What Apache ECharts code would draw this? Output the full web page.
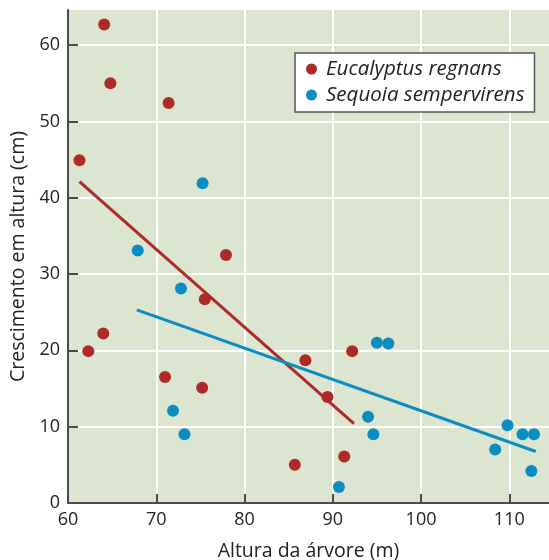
<!DOCTYPE html>
<html>
<head>
<meta charset="utf-8">
<script src="https://cdn.jsdelivr.net/npm/echarts@6/dist/echarts.min.js"></script>
<style>
  html, body { margin: 0; padding: 0; background: #fff; }
  #chart { width: 549px; height: 560px; }
</style>
</head>
<body>
<div id="chart"></div>
<script>
// Eucalyptus regnans: [altura (m), crescimento (cm)]
var eucalyptus = [
    [64.1, 62.7], [64.8, 55.0], [71.4, 52.4], [61.3, 44.9], [77.9, 32.5],
    [75.5, 26.7], [64.0, 22.2], [62.3, 19.9], [71.0, 16.5], [75.2, 15.1],
    [92.2, 19.9], [86.9, 18.7], [89.4, 13.9], [91.3, 6.1], [85.7, 5.0]
];
// Sequoia sempervirens
var sequoia = [
    [75.25, 41.9], [67.9, 33.1], [72.8, 28.1], [71.9, 12.1], [73.2, 9.0],
    [95.0, 21.0], [96.3, 20.9], [94.0, 11.3], [94.6, 9.0], [90.7, 2.1],
    [109.8, 10.2], [111.5, 9.0], [112.8, 9.0], [108.4, 7.0], [112.5, 4.2]
];
// linhas de tendência (extremos)
var eucalyptusTrend = [[61.3, 42.1], [92.4, 10.4]];
var sequoiaTrend = [[67.8, 25.3], [113.0, 6.75]];

var xTicks = [60, 70, 80, 90, 100, 110];
var yTicks = [0, 10, 20, 30, 40, 50, 60];

var red = '#ad2a29';
var blue = '#0b8dc1';
var font = '"Open Sans", "Noto Sans", sans-serif';

var chart = echarts.init(document.getElementById('chart'));

var option = {
    animation: false,
    textStyle: { fontFamily: font },
    grid: {
        left: 68, top: 10, right: 0, bottom: 57,
        outerBoundsMode: 'none',
        containLabel: false,
        show: true, backgroundColor: '#dbe5d0', borderWidth: 0
    },
    legend: {
        data: ['Eucalyptus regnans', 'Sequoia sempervirens'],
        orient: 'vertical',
        left: 295, top: 53,
        backgroundColor: '#fff',
        borderColor: '#555',
        borderWidth: 1.5,
        borderRadius: 0,
        padding: [6, 10, 7, 11],
        itemGap: 6,
        itemWidth: 11, itemHeight: 11,
        icon: 'circle',
        textStyle: {
            fontFamily: font, fontStyle: 'italic', fontSize: 20.5, color: '#222',
            lineHeight: 20, padding: [0, 0, 0, 4]
        }
    },
    xAxis: {
        type: 'value',
        min: 60, max: 114.5, interval: 10,
        name: 'Altura da árvore (m)',
        nameLocation: 'middle', nameGap: 38,
        nameTextStyle: { fontSize: 19.5, color: '#222', fontFamily: font },
        axisLine: { show: true, lineStyle: { color: '#4a4a4a', width: 2 } },
        axisTick: { show: true, inside: true, length: 9, customValues: xTicks,
            lineStyle: { color: '#4a4a4a', width: 2 } },
        axisLabel: { customValues: xTicks, fontSize: 18, color: '#222', margin: 8, fontFamily: font },
        splitLine: { show: true, lineStyle: { color: '#fff', width: 2 } }
    },
    yAxis: {
        type: 'value',
        min: 0, max: 64.6, interval: 10,
        name: 'Crescimento em altura (cm)',
        nameLocation: 'middle', nameGap: 39,
        nameTextStyle: { fontSize: 19.5, color: '#222', fontFamily: font },
        axisLine: { show: true, lineStyle: { color: '#4a4a4a', width: 2 } },
        axisTick: { show: true, inside: true, length: 10, customValues: yTicks,
            lineStyle: { color: '#4a4a4a', width: 2 } },
        axisLabel: { customValues: yTicks, fontSize: 18, color: '#222', margin: 8, fontFamily: font },
        splitLine: { show: true, lineStyle: { color: '#fff', width: 2 } }
    },
    series: [{
        type: 'line',
        name: 'tendência E',
        data: eucalyptusTrend,
        symbol: 'none',
        lineStyle: { color: red, width: 3 },
        z: 2
    }, {
        type: 'line',
        name: 'tendência S',
        data: sequoiaTrend,
        symbol: 'none',
        lineStyle: { color: blue, width: 3 },
        z: 2
    }, {
        type: 'scatter',
        name: 'Eucalyptus regnans',
        data: eucalyptus,
        symbolSize: 12,
        itemStyle: { color: red, opacity: 1 },
        z: 3
    }, {
        type: 'scatter',
        name: 'Sequoia sempervirens',
        data: sequoia,
        symbolSize: 12,
        itemStyle: { color: blue, opacity: 1 },
        z: 3
    }]
};

chart.setOption(option);
</script>
</body>
</html>
